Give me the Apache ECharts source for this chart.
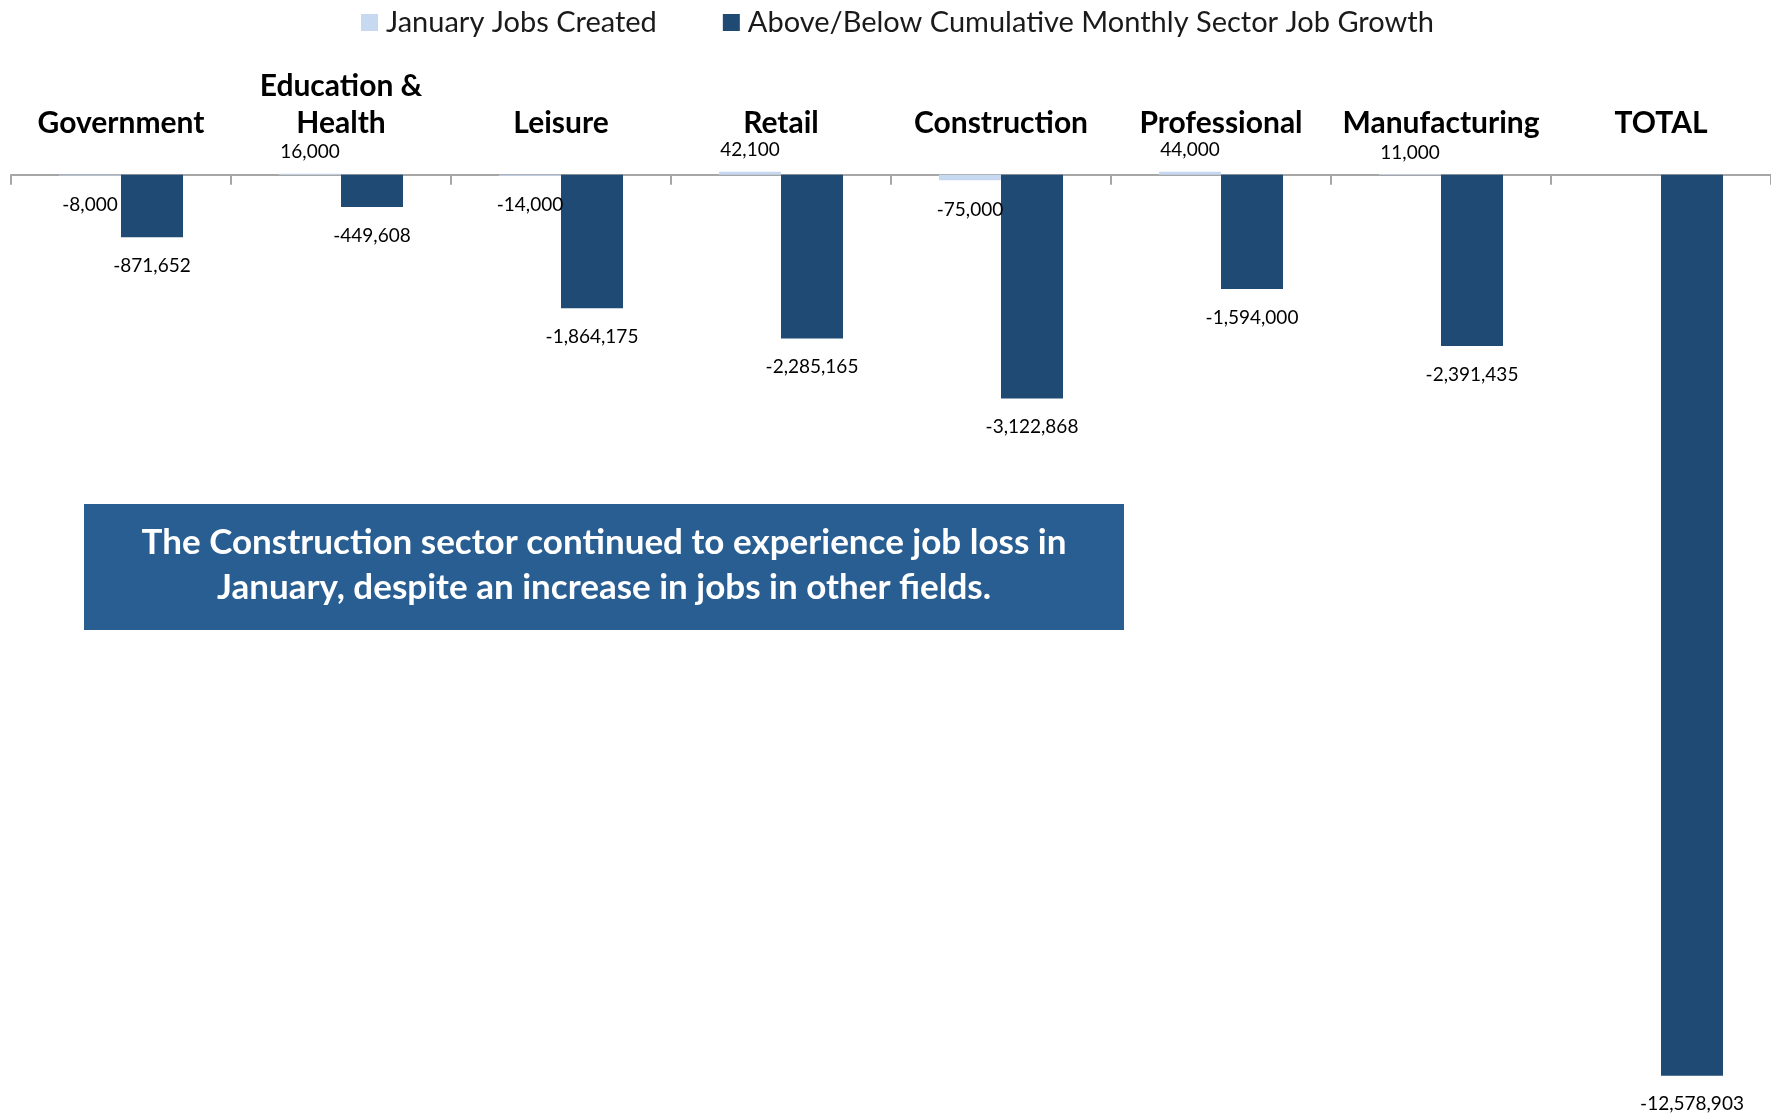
<!DOCTYPE html>
<html>
<head>
<meta charset="utf-8">
<script src="https://cdn.jsdelivr.net/npm/echarts@6/dist/echarts.min.js"></script>
<style>
html,body{margin:0;padding:0;background:#fff;}
#chart{width:1771px;height:1115px;}
</style>
</head>
<body>
<div id="chart"></div>
<script>
const categories = ['Government', 'Education &\nHealth', 'Leisure', 'Retail', 'Construction', 'Professional', 'Manufacturing', 'TOTAL'];
const januaryJobs = [-8000, 16000, -14000, 42100, -75000, 44000, 11000, null];
const aboveBelow = [-871652, -449608, -1864175, -2285165, -3122868, -1594000, -2391435, -12578903];
const seriesNames = ['January Jobs Created', 'Above/Below Cumulative Monthly Sector Job Growth'];
const noteLines = ['The Construction sector continued to experience job loss in', 'January, despite an increase in jobs in other fields.'];

const FONT = 'Lato, "Liberation Sans", sans-serif';
const fmt = v => (v == null ? '' : Number(v).toLocaleString('en-US'));

const chart = echarts.init(document.getElementById('chart'));
chart.setOption({
  backgroundColor: '#ffffff',
  animation: false,
  legend: {
    top: 3,
    left: 356,
    itemWidth: 17,
    itemHeight: 17,
    itemGap: 66,
    icon: 'rect',
    textStyle: { fontFamily: FONT, fontSize: 29, color: '#1a1a1a', padding: [0, 0, 0, 3] },
    data: seriesNames
  },
  grid: { left: 11, right: 0, top: 139, bottom: 9, containLabel: false },
  xAxis: {
    type: 'category',
    position: 'top',
    data: categories,
    axisLine: { onZero: true, lineStyle: { color: '#a6a6a6', width: 2 } },
    axisTick: { show: true, inside: true, length: 10, alignWithLabel: false, lineStyle: { color: '#a6a6a6', width: 2 } },
    axisLabel: {
      margin: -3,
      interval: 0,
      fontFamily: FONT,
      fontWeight: 'bold',
      fontSize: 30,
      lineHeight: 37,
      color: '#000'
    }
  },
  yAxis: {
    type: 'value',
    min: -13000000,
    max: 500000,
    show: false,
    splitLine: { show: false }
  },
  series: [
    {
      name: seriesNames[0],
      type: 'bar',
      barWidth: 62,
      barGap: '0%',
      itemStyle: { color: '#C6D9F1' },
      data: januaryJobs.map(v => ({
        value: v,
        label: { position: v >= 0 ? 'top' : 'bottom', distance: v >= 0 ? 12 : 20 }
      })),
      label: {
        show: true,
        fontFamily: FONT,
        fontSize: 19,
        color: '#000',
        formatter: p => fmt(p.value)
      }
    },
    {
      name: seriesNames[1],
      type: 'bar',
      barWidth: 62,
      barGap: '0%',
      itemStyle: { color: '#1F4A73' },
      data: aboveBelow,
      label: {
        show: true,
        position: 'bottom',
        distance: 19,
        fontFamily: FONT,
        fontSize: 19,
        color: '#000',
        formatter: p => fmt(p.value)
      }
    }
  ],
  graphic: [
    {
      type: 'group',
      left: 84,
      top: 504,
      children: [
        { type: 'rect', shape: { x: 0, y: 0, width: 1040, height: 126 }, style: { fill: '#285E91' } },
        {
          type: 'text',
          x: 520,
          y: 61,
          style: {
            text: noteLines.join('\n'),
            fill: '#fff',
            font: 'bold 35px ' + FONT,
            align: 'center',
            verticalAlign: 'middle',
            lineHeight: 45
          }
        }
      ]
    }
  ]
});
</script>
</body>
</html>
